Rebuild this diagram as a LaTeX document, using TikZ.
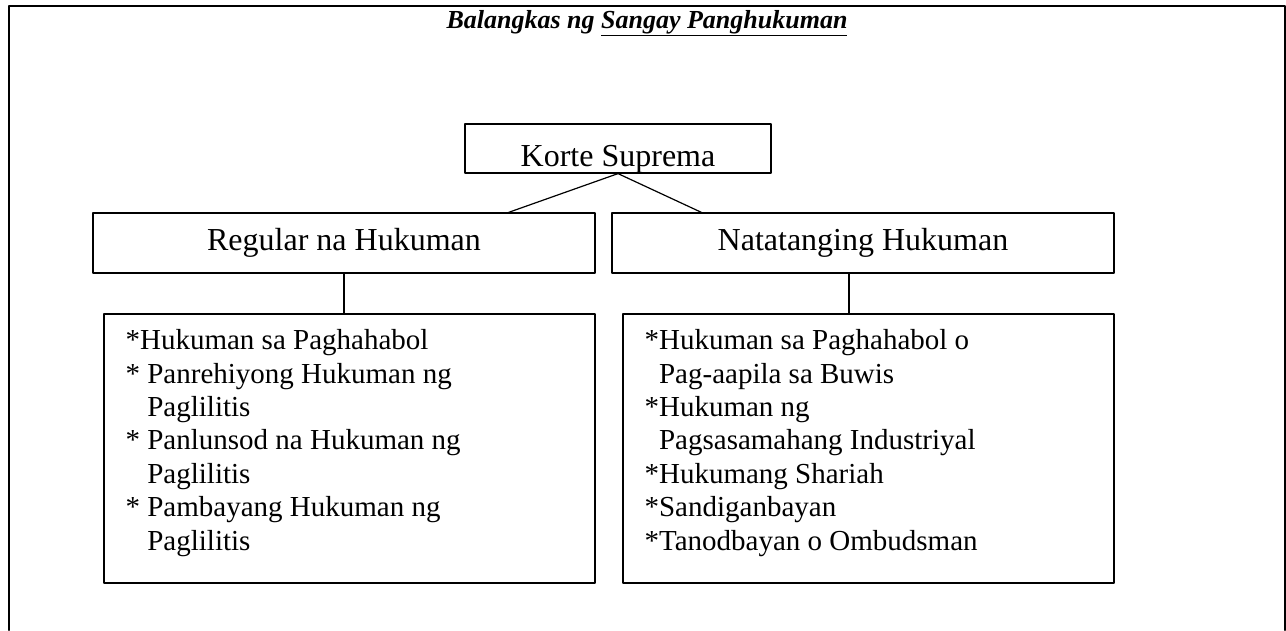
\documentclass[tikz,border=0pt]{standalone}
\usepackage{fontspec}
\setmainfont{Liberation Serif}
\usetikzlibrary{calc}

\begin{document}
\begin{tikzpicture}[line cap=round,line join=round,x=1pt,y=-1pt,
  box/.style={draw,line width=1.2pt,inner sep=0pt},
  headbox/.style={box,minimum width=502pt,minimum height=60pt,font=\fontsize{32}{36}\selectfont},
  listbox/.style={box,minimum width=491pt,minimum height=269pt},
  listtext/.style={inner sep=0pt,align=left,font=\fontsize{29}{33.4}\selectfont},
  link/.style={line width=1.2pt}]
\useasboundingbox (0,0) rectangle (1286,630);

% frame (open at the bottom)
\draw[line width=2pt] (9,630) -- (9,6) -- (1285,6) -- (1285,630);

\node[anchor=base,font=\fontsize{26}{30}\selectfont\bfseries\itshape] (title) at (647,28) {Balangkas ng \underline{Sangay Panghukuman}};

\node[box,minimum width=306pt,minimum height=49pt,text height=35pt,text depth=0pt,font=\fontsize{32}{36}\selectfont] (korte) at (618,148.5) {Korte Suprema};

\node[headbox] (regular) at (344,243) {Regular na Hukuman};
\node[headbox] (natatangi) at (863,243) {Natatanging Hukuman};

\node[listbox] (listreg) at (349.5,448.5) {};
\node[listbox] (listnat) at (868.5,448.5) {};

\node[listtext,anchor=north west] (itemsreg) at ([shift={(22,16)}]listreg.north west) {*Hukuman sa Paghahabol\\
* Panrehiyong Hukuman ng\\
\hphantom{*\ }Paglilitis\\
* Panlunsod na Hukuman ng\\
\hphantom{*\ }Paglilitis\\
* Pambayang Hukuman ng\\
\hphantom{*\ }Paglilitis};

\node[listtext,anchor=north west] (itemsnat) at ([shift={(22,16)}]listnat.north west) {*Hukuman sa Paghahabol o\\
\hphantom{*}Pag-aapila sa Buwis\\
*Hukuman ng\\
\hphantom{*}Pagsasamahang Industriyal\\
*Hukumang Shariah\\
*Sandiganbayan\\
*Tanodbayan o Ombudsman};

\coordinate (regtop) at ($(regular.north west)!0.827!(regular.north east)$);
\coordinate (nattop) at ($(natatangi.north west)!0.179!(natatangi.north east)$);
\coordinate (natdrop) at ($(natatangi.south west)!0.472!(natatangi.south east)$);

\draw[link] (korte.south) -- (regtop);
\draw[link] (korte.south) -- (nattop);

\draw[link] (regular.south) -- (regular.south |- listreg.north);
\draw[link] (natdrop) -- (natdrop |- listnat.north);
\end{tikzpicture}
\end{document}
